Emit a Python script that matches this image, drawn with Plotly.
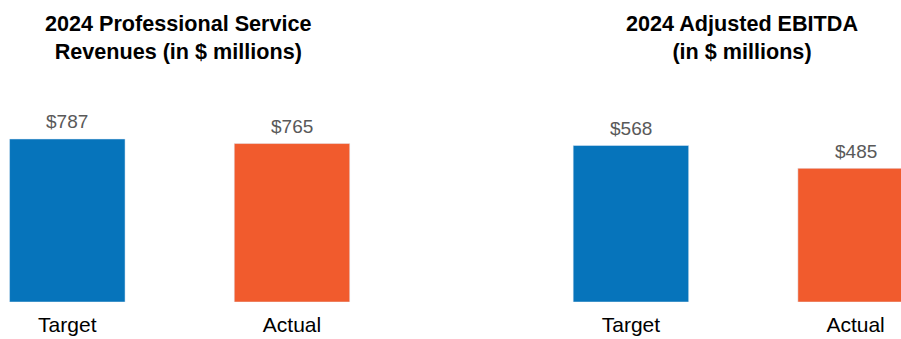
import plotly.graph_objects as go

categories = ["Target", "Actual"]
revenue_values = [787, 765]
ebitda_values = [568, 485]
revenue_labels = ["$787", "$765"]
ebitda_labels = ["$568", "$485"]
titles = ["2024 Professional Service<br>Revenues (in $ millions)",
          "2024 Adjusted EBITDA<br>(in $ millions)"]
colors = ["#0674BB", "#F15B2D"]

fig = go.Figure()
fig.add_trace(go.Bar(x=categories, y=revenue_values, marker_color=colors,
                     width=0.514, xaxis="x", yaxis="y", hoverinfo="skip"))
fig.add_trace(go.Bar(x=categories, y=ebitda_values, marker_color=colors,
                     width=0.514, xaxis="x2", yaxis="y2", hoverinfo="skip"))

font = "Liberation Sans, Arial, sans-serif"
ann = []
for xs, ys, labs, xa, ya in [(categories, revenue_values, revenue_labels, "x", "y"),
                             (categories, ebitda_values, ebitda_labels, "x2", "y2")]:
    for c, v, t in zip(xs, ys, labs):
        ann.append(dict(x=c, y=v, xref=xa, yref=ya, text=t, showarrow=False,
                        yanchor="middle", yshift=17,
                        font=dict(family=font, size=19, color="#595959")))

title_x = [178 / 901, 742 / 901]
for tx, tt in zip(title_x, titles):
    ann.append(dict(x=tx, y=1, xref="paper", yref="paper", xanchor="center", yanchor="top",
                    text="<b>" + tt + "</b>", showarrow=False, yshift=-9,
                    font=dict(family=font, size=21.6, color="#000000")))

axis_common = dict(showgrid=False, zeroline=False, showline=False, ticks="",
                   ticklabelstandoff=8, automargin=False,
                   tickfont=dict(family=font, size=21, color="#000000"))
fig.update_layout(
    width=901, height=339,
    margin=dict(l=0, r=0, t=0, b=37),
    paper_bgcolor="white", plot_bgcolor="white",
    showlegend=False,
    xaxis=dict(domain=[0, 0.5], range=[-0.2995, 1.7054], **axis_common),
    xaxis2=dict(domain=[0.5, 1], range=[-0.803, 1.202], **axis_common),
    yaxis=dict(domain=[0, 1], range=[0, 1458], visible=False),
    yaxis2=dict(domain=[0, 1], range=[0, 1096], visible=False, anchor="x2"),
    annotations=ann,
)
fig.write_html("out.html")
